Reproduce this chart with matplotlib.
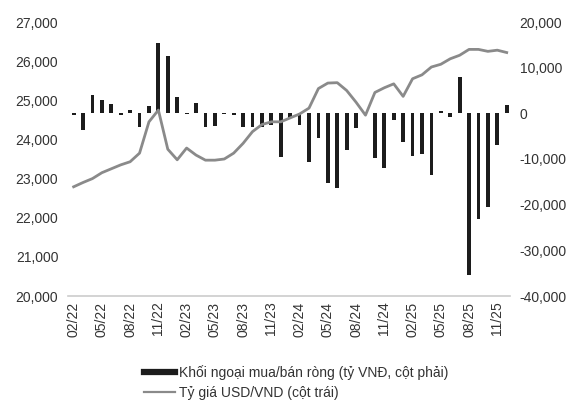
import matplotlib
matplotlib.use("Agg")
import matplotlib.pyplot as plt
from matplotlib.lines import Line2D
from matplotlib.ticker import FuncFormatter
import numpy as np

plt.rcParams['font.family'] = ['Liberation Sans', 'DejaVu Sans']
plt.rcParams['axes.unicode_minus'] = False

# Monthly data 02/2022 -> 12/2025
months = ["02/22", "03/22", "04/22", "05/22", "06/22", "07/22", "08/22", "09/22", "10/22", "11/22", "12/22",
          "01/23", "02/23", "03/23", "04/23", "05/23", "06/23", "07/23", "08/23", "09/23", "10/23", "11/23", "12/23",
          "01/24", "02/24", "03/24", "04/24", "05/24", "06/24", "07/24", "08/24", "09/24", "10/24", "11/24", "12/24",
          "01/25", "02/25", "03/25", "04/25", "05/25", "06/25", "07/25", "08/25", "09/25", "10/25", "11/25", "12/25"]

# Foreign net buy/sell (billion VND, right axis)
net_flow = [-300, -3700, 4000, 2900, 2000, -300, 700, -3000, 1700, 15300, 12500,
            3500, -200, 2300, -3000, -2800, -200, -400, -3000, -3000, -3000, -2500, -9500,
            -1000, -2600, -10700, -5500, -15300, -16400, -8100, -3300, -300, -9800, -12000, -1500,
            -6200, -9400, -9000, -13400, 500, -700, 8000, -35400, -23200, -20500, -7000, 1800]

# USD/VND exchange rate (left axis)
usd_vnd = [22790, 22900, 23000, 23150, 23250, 23350, 23430, 23650, 24450, 24750, 23750,
           23480, 23780, 23600, 23470, 23470, 23500, 23650, 23900, 24200, 24380, 24450, 24450,
           24550, 24650, 24800, 25300, 25440, 25450, 25250, 24950, 24620, 25200, 25320, 25420,
           25100, 25550, 25650, 25850, 25920, 26060, 26150, 26300, 26300, 26250, 26280, 26220]

left_ticks = [20000, 21000, 22000, 23000, 24000, 25000, 26000, 27000]
right_ticks = [-40000, -30000, -20000, -10000, 0, 10000, 20000]

legend_bar = "Khối ngoại mua/bán ròng (tỷ VNĐ, cột phải)"
legend_line = "Tỷ giá USD/VND (cột trái)"

fig = plt.figure(figsize=(5.72, 4.01), dpi=100)
ax = fig.add_axes([68/572, 1-296/401, (510-68)/572, (296-22)/401])
ax2 = ax.twinx()
x = np.arange(len(months))

bar_color = "#1c1c1c"
line_color = "#8a8a8a"
text_color = "#333333"
fs = 10
fmt = FuncFormatter(lambda v, p: f"{int(v):,}")

# bars on the base axes, ticks on the right
ax.bar(x, net_flow, width=0.4, color=bar_color, zorder=2)
ax.set_ylim(-40000, 20000)
ax.set_yticks(right_ticks)
ax.yaxis.set_major_formatter(fmt)
ax.yaxis.tick_right()
ax.tick_params(axis='y', which='both', left=False, right=False, labelleft=False, labelright=True,
               length=0, pad=7, labelsize=fs, labelcolor=text_color)
ax.set_xlim(-0.6, len(months) - 0.65)
ax.set_xticks(x[::3])
ax.set_xticklabels(months[::3], rotation=90)
ax.tick_params(axis='x', length=0, pad=4, labelsize=fs, labelcolor=text_color)
for s in ['top', 'left', 'right', 'bottom']:
    ax.spines[s].set_visible(False)

# line on the twin axes, ticks on the left
ax2.plot(x, usd_vnd, color=line_color, lw=2, zorder=3)
ax2.set_ylim(20000, 27000)
ax2.set_yticks(left_ticks)
ax2.yaxis.set_major_formatter(fmt)
ax2.yaxis.tick_left()
ax2.tick_params(axis='y', which='both', left=False, right=False, labelleft=True, labelright=False,
                length=0, pad=7, labelsize=fs, labelcolor=text_color)
for s in ['top', 'left', 'right']:
    ax2.spines[s].set_visible(False)
ax2.spines['bottom'].set_color("#cccccc")
ax2.spines['bottom'].set_linewidth(1.2)

handles = [Line2D([0], [0], color=bar_color, lw=4.5),
           Line2D([0], [0], color=line_color, lw=1.6)]
fig.legend(handles, [legend_bar, legend_line], loc='upper left',
           bbox_to_anchor=(137/572, 1-358/401), frameon=False, fontsize=fs,
           handlelength=2.2, handletextpad=0.3, labelspacing=0.45, borderpad=0,
           labelcolor=text_color)

fig.savefig("out.png", dpi=100, facecolor="white")
